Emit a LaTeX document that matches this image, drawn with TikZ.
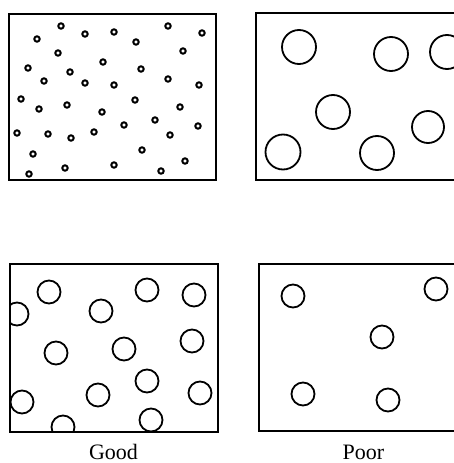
\documentclass[tikz,border=0pt]{standalone}
\usepackage{fontspec}
\setmainfont{Liberation Serif}
\begin{document}
\begin{tikzpicture}[x=1pt,y=-1pt,
  frame/.style={line width=2.8pt},
  dot/.style={line width=2pt},
  ring/.style={line width=1.8pt},
  lab/.style={font=\fontsize{22}{24}\selectfont, inner sep=0pt, anchor=base}]
\useasboundingbox (0,0) rectangle (454,463);
\clip (0,0) rectangle (454,463);
% Panel 1
\draw[frame] (9,14) rectangle (216,180);
\foreach \x/\y in {61/26,37/39,85/34,114/32,136/42,168/26,202/33,58/53,183/51,28/68,103/62,70/72,141/69,44/81,85/83,114/85,168/79,199/85,21/99,135/100,39/109,67/105,102/112,180/107,155/120,124/125,198/126,17/133,48/134,71/138,94/132,170/135,142/150,33/154,185/161,65/168,114/165,161/171,29/174}
  \draw[dot] (\x,\y) circle (2.7);
% Panel 2
\draw[frame] (256,13) rectangle (470,180);
\foreach \x/\y/\r in {299/47/17,391/54/17,447/52/17,333/112/17,428/127/16,283/152/17.5,377/153/17}
  \draw[ring] (\x,\y) circle (\r);
% Panel 3
\begin{scope}
  \clip (10,264) rectangle (218,432);
  \foreach \x/\y in {49/292,17/314,101/311,147/290,194/295,56/353,124/349,192/341,147/381,22/402,98/395,200/393,63/427,151/420}
    \draw[ring] (\x,\y) circle (11.5);
\end{scope}
\draw[frame] (10,264) rectangle (218,432);
% Panel 4
\draw[frame] (259,264) rectangle (470,431);
\foreach \x/\y in {293/296,436/289,382/337,303/394,388/400}
  \draw[ring] (\x,\y) circle (11.5);
\node[lab] (good) at (113.5,459) {Good};
\node[lab] (poor) at (363.5,459) {Poor};
\end{tikzpicture}
\end{document}
